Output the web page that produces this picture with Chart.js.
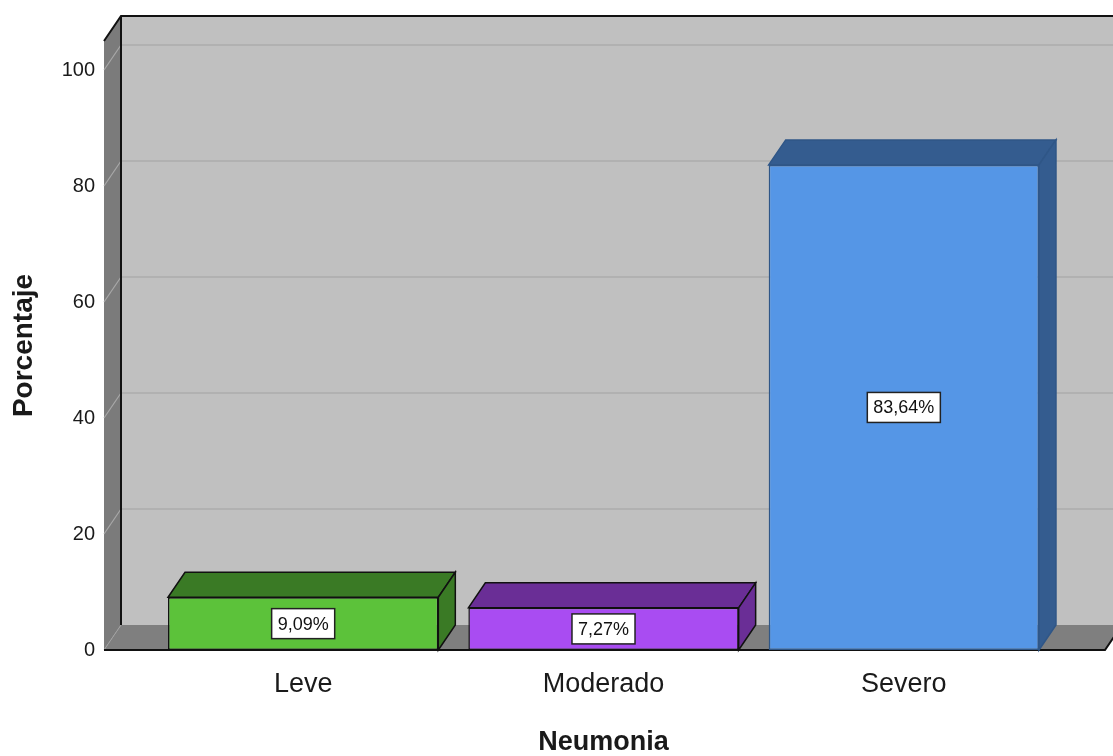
<!DOCTYPE html>
<html>
<head>
<meta charset="utf-8">
<script src="https://cdn.jsdelivr.net/npm/chart.js@4.4.1/dist/chart.umd.min.js"></script>
<style>
html,body{margin:0;padding:0;background:#fff;}
canvas{display:block;}
</style>
</head>
<body>
<canvas id="c" width="1113" height="756"></canvas>
<script>
const categories=["Leve","Moderado","Severo"];
const values=[9.09,7.27,83.64];
const valueLabels=["9,09%","7,27%","83,64%"];
const yTicks=[0,20,40,60,80,100];
const frontColors=["#5cc23a","#a94cf2","#5596e6"];
const darkColors=["#3a7a25","#6a2e96","#345c8f"];
const edgeColors=["#111111","#111111","#2f5687"];

const DX=17,DY=25;      // depth of the 3d box
const WALL_L=49,WALL_R=51;

/* 벽, 바닥, 격자 */
const box3d={
id:"box3d",
beforeDatasetsDraw(c){
let ctx=c.ctx,a=c.chartArea,ys=c.scales.y;
let L=a.left-WALL_L,R=a.right+WALL_R,T=a.top,B=a.bottom;
ctx.save();

// back wall
ctx.fillStyle="#c0c0c0";
ctx.fillRect(L+DX,T-DY,R-L+DX,B-T);

// left wall
ctx.fillStyle="#7b7b7b";
ctx.beginPath();
ctx.moveTo(L,T);ctx.lineTo(L+DX,T-DY);ctx.lineTo(L+DX,B-DY);ctx.lineTo(L,B);
ctx.closePath();ctx.fill();

// grid
yTicks.forEach(v=>{
if(v===0) return;
let p=ys.getPixelForValue(v);
ctx.strokeStyle="#adadad";ctx.lineWidth=1.5;
ctx.beginPath();ctx.moveTo(L+DX,p-DY);ctx.lineTo(R+DX+20,p-DY);ctx.stroke();
ctx.strokeStyle="#a8a8a8";ctx.lineWidth=1.2;
ctx.beginPath();ctx.moveTo(L,p);ctx.lineTo(L+DX,p-DY);ctx.stroke();
});

// floor
ctx.fillStyle="#7f7f7f";
ctx.beginPath();
ctx.moveTo(L,B);ctx.lineTo(L+DX,B-DY);ctx.lineTo(R+DX,B-DY);ctx.lineTo(R,B);
ctx.closePath();ctx.fill();
ctx.strokeStyle="#a0a0a0";ctx.lineWidth=1;
ctx.beginPath();ctx.moveTo(L,B);ctx.lineTo(L+DX,B-DY);ctx.stroke();

// edges
ctx.strokeStyle="#111";ctx.lineWidth=2;
ctx.beginPath();
ctx.moveTo(L,T);ctx.lineTo(L+DX,T-DY);ctx.lineTo(R+DX+20,T-DY);
ctx.moveTo(L+DX,T-DY);ctx.lineTo(L+DX,B-DY);
ctx.stroke();
ctx.beginPath();
ctx.moveTo(L,B);ctx.lineTo(R,B);ctx.lineTo(R+DX,B-DY);
ctx.stroke();

// bar tops and sides
let meta=c.getDatasetMeta(0);
meta.data.forEach((el,i)=>{
let l=el.x-el.width/2,r=el.x+el.width/2,t=el.y,b=el.base;
ctx.fillStyle=darkColors[i];ctx.strokeStyle=edgeColors[i];ctx.lineWidth=1.5;
ctx.beginPath();
ctx.moveTo(l,t);ctx.lineTo(l+DX,t-DY);ctx.lineTo(r+DX,t-DY);ctx.lineTo(r,t);
ctx.closePath();ctx.fill();ctx.stroke();
ctx.beginPath();
ctx.moveTo(r,t);ctx.lineTo(r+DX,t-DY);ctx.lineTo(r+DX,b-DY);ctx.lineTo(r,b);
ctx.closePath();ctx.fill();ctx.stroke();
});
ctx.restore();
},
afterDatasetsDraw(c){
let ctx=c.ctx;
ctx.save();
ctx.font="18px 'Liberation Sans', Arial, sans-serif";
ctx.textAlign="center";ctx.textBaseline="middle";
c.getDatasetMeta(0).data.forEach((el,i)=>{
let cx=el.x,cy=(el.y+el.base)/2;
let w=ctx.measureText(valueLabels[i]).width+12,h=30;
ctx.fillStyle="#fff";ctx.fillRect(cx-w/2,cy-h/2,w,h);
ctx.strokeStyle="#222";ctx.lineWidth=1.5;ctx.strokeRect(cx-w/2,cy-h/2,w,h);
ctx.fillStyle="#111";ctx.fillText(valueLabels[i],cx,cy+1);
});
ctx.restore();
}
};

Chart.defaults.font.family="'Liberation Sans', Arial, sans-serif";
Chart.defaults.color="#1a1a1a";

new Chart(document.getElementById("c"),{
type:"bar",
data:{
labels:categories,
datasets:[{
data:values,
backgroundColor:frontColors,
borderColor:edgeColors,
borderWidth:1.5,
borderSkipped:false,
barPercentage:0.9,
categoryPercentage:1
}]
},
options:{
responsive:false,
animation:false,
layout:{padding:{top:41,right:59,left:0,bottom:0}},
plugins:{legend:{display:false},tooltip:{enabled:false}},
scales:{
x:{
grid:{display:false,drawTicks:false},
border:{display:false},
ticks:{padding:18,font:{size:27}},
title:{display:true,text:"Neumonia",font:{size:27,weight:"bold",lineHeight:1},padding:{top:0,bottom:0}},
afterFit(s){s.height=106;}
},
y:{
min:0,max:105,
grid:{display:false,drawTicks:false},
border:{display:false},
afterBuildTicks(s){s.ticks=yTicks.map(v=>({value:v}));},
ticks:{padding:58,font:{size:20}},
title:{display:true,text:"Porcentaje",font:{size:28,weight:"bold",lineHeight:1},padding:{top:10,bottom:0}},
afterFit(s){s.width=153;s.paddingTop=12;s.paddingBottom=12;}
}
}
},
plugins:[box3d]
});
</script>
</body>
</html>
